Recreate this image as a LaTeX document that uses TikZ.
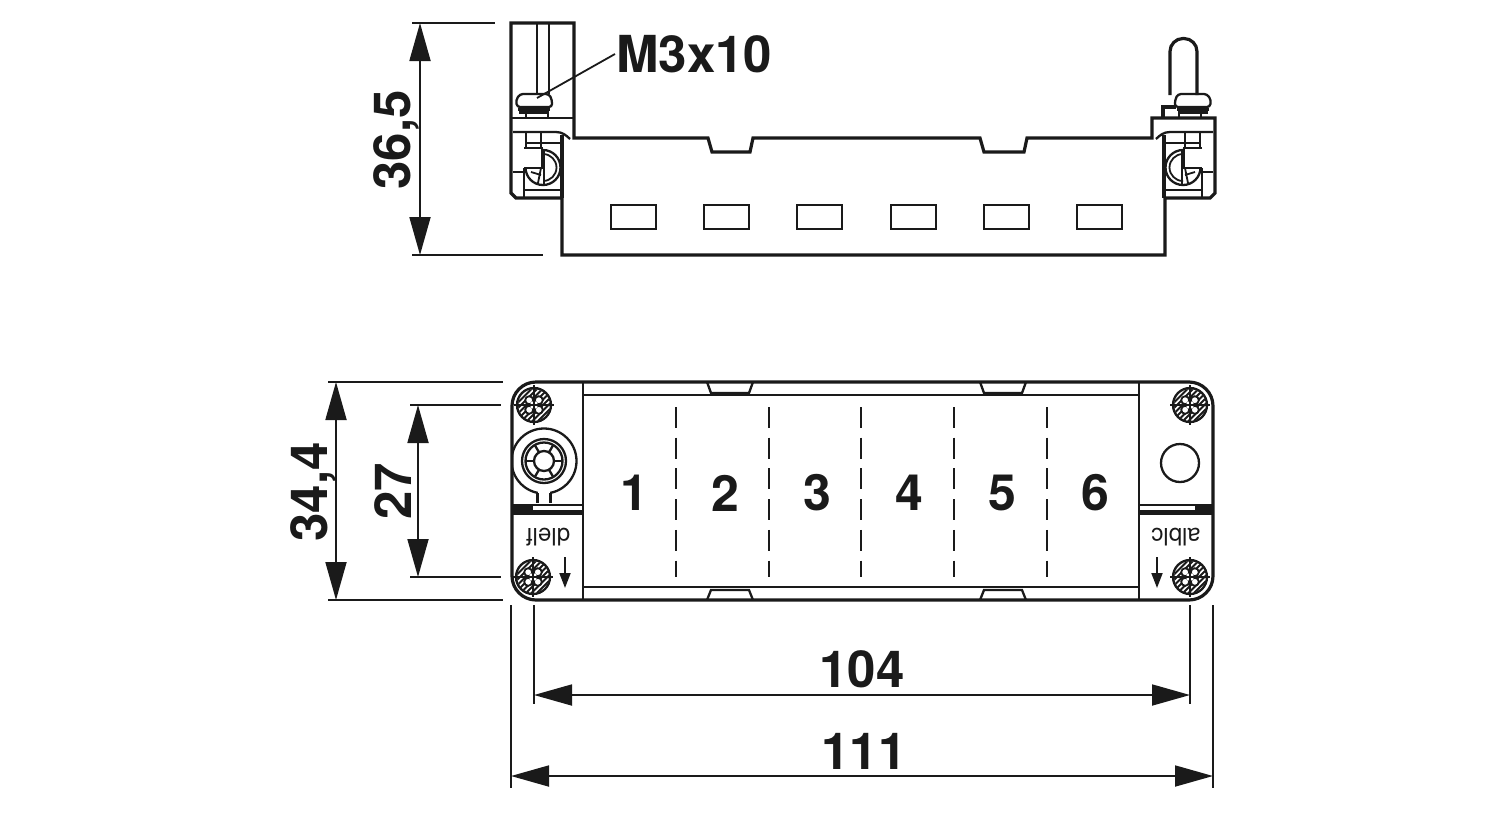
\documentclass[tikz,border=0pt]{standalone}
\usepackage{fontspec}
\setmainfont{TeX Gyre Heros}
\usetikzlibrary{arrows.meta}
\definecolor{ink}{HTML}{1A1A1A}
\tikzset{
  heavy/.style={draw=ink,line width=3.2pt,line join=miter},
  medium/.style={draw=ink,line width=2.3pt},
  thin line/.style={draw=ink,line width=1.8pt},
  dimline/.style={draw=ink,line width=1.8pt,{Triangle[length=38pt,width=21pt,fill=ink]}-{Triangle[length=38pt,width=21pt,fill=ink]}},
  extline/.style={draw=ink,line width=1.8pt},
  dimtext/.style={font=\fontsize{51}{51}\selectfont\bfseries,text=ink,inner sep=0pt},
  numtext/.style={font=\fontsize{50}{50}\selectfont\bfseries,text=ink,inner sep=0pt},
  smalltext/.style={font=\fontsize{24}{24}\selectfont,text=ink,inner sep=0pt,rotate=180},
  divider/.style={draw=ink,line width=2.3pt,dash pattern=on 21pt off 9.7pt},
  smallarrow/.style={draw=ink,line width=1.9pt,-{Triangle[length=15pt,width=11pt,fill=ink]}},
}
\newcommand{\sidebit}{%
  \draw[medium] (511,118) -- (574,118);
  \draw[medium] (513,132) -- (556,132) .. controls (562,132) and (566,135) .. (570,139);
  \draw[heavy] (562,135) -- (562,198);
  \draw[medium] (526,132) -- (526,148) (541,132) -- (541,148) (526,143) -- (562,143);
  \draw[medium] (513,172) -- (524,172) (524,168) -- (524,197) (524,190) -- (562,190);
  \begin{scope}
    \clip (543,140) rectangle (565,190);
    \draw[medium] (543,167.5) circle[radius=17.5pt];
    \draw[thin line] (543,167.5) circle[radius=13.5pt];
  \end{scope}
  \begin{scope}
    \clip (520,168) rectangle (543,190);
    \draw[medium] (543,167.5) circle[radius=17.5pt];
  \end{scope}
  \draw[medium] (524,148) -- (542,148) -- (542,168) -- (524,168);
  \draw[medium] (544,150) -- (544,185);
  \draw[thin line] (531,172) -- (541,175) (541,168) -- (538,183);
}
\newcommand{\topscrew}{%
  \draw[medium,rounded corners=3pt] (517,107) -- (516,100) -- (520,94) -- (549,94) -- (552,100) -- (552,107) -- cycle;
  \draw[medium] (518,109.5) -- (550,109.5) (519,112.5) -- (549,112.5);
  \draw[medium] (526,113) -- (526,118) (548,113) -- (548,118);
}
\newcommand{\headscrew}[2]{%
  \begin{scope}[shift={(#1,#2)}]
    \begin{scope}
      \clip (0,0) circle[radius=16pt];
      \foreach \d in {-24,-18.5,-13,-7.5,-2,3.5,9,14.5,20,25.5}
        \draw[draw=ink,line width=2pt] (\d-20,20) -- (\d+20,-20);
    \end{scope}
    \foreach \p/\q in {4.8/4.8,-4.8/4.8,4.8/-4.8,-4.8/-4.8}
      \draw[thin line,fill=white] (\p,\q) circle[radius=4pt];
    \fill[white] (0,0) circle[radius=4pt];
    \draw[medium] (0,0) circle[radius=17pt];
    \draw[thin line] (-20,0) -- (20,0) (0,-20) -- (0,20);
  \end{scope}%
}
\begin{document}
\begin{tikzpicture}[x=1pt,y=-1pt]
\useasboundingbox (0,0) rectangle (1500,820);
\fill[white] (0,0) rectangle (1500,820);

% ---------- top view outline
\draw[heavy] (516,198) -- (511,193) -- (511,23) -- (574,23) -- (574,138) -- (708,138) -- (712,152) -- (750,152) -- (753,138)
  -- (980,138) -- (984,152) -- (1024,152) -- (1027,138) -- (1152,138) -- (1152,118) -- (1215,118)
  -- (1215,193) -- (1210,198) -- (1165,198) -- (1165,255) -- (562,255) -- (562,198) -- cycle;
\draw[medium] (537,23) -- (537,94) (549,23) -- (549,94);
\foreach \sx in {611,704,797,891,984,1077}
  \draw[medium] (\sx,205) rectangle ++(45,24);
\sidebit
\topscrew
\begin{scope}[shift={(1726,0)},xscale=-1]
  \sidebit
\end{scope}
\begin{scope}[shift={(1727,0)},xscale=-1]
  \topscrew
\end{scope}
\draw[heavy] (1163,118) -- (1163,107) -- (1176,107);
\draw[heavy,rounded corners=13pt] (1170,95) -- (1170,38.5) -- (1197,38.5) -- (1197,95);

% ---------- front view
\draw[medium] (583,395) -- (1139,395) (583,587) -- (1139,587);
\foreach \nx in {707,980} {
  \draw[medium,fill=white] (\nx,382) -- (\nx+4,393) -- (\nx+42,393) -- (\nx+46,382);
  \draw[medium,fill=white] (\nx,600) -- (\nx+4,590) -- (\nx+42,590) -- (\nx+46,600);
}
\draw[heavy,rounded corners=24pt] (512,382) rectangle (1213,600);
\draw[medium] (583,382) -- (583,600) (1139,382) -- (1139,600);
\foreach \dx in {676,769,861,954,1047}
  \draw[divider] (\dx,407) -- (\dx,577);
\draw[thin line] (512,505) -- (583,505) (512,511) -- (583,511) (1139,505) -- (1213,505) (1139,511) -- (1213,511);
\fill[ink] (512,504) rectangle (533,513);
\fill[ink] (1195,504) rectangle (1213,513);
\draw[heavy] (512,513) -- (583,513) (1139,513) -- (1213,513);

\headscrew{534}{405}
\headscrew{533}{577}
\headscrew{1190}{405}
\headscrew{1190}{577}

% round fixture on the left
\begin{scope}
  \clip (512,420) rectangle (583,505);
  \draw[medium] (544,461) circle[radius=32.5pt];
\end{scope}
\fill[white] (538,490) rectangle (550,497);
\draw[medium] (537.5,493) -- (537.5,503) (550.5,493) -- (550.5,503);
\draw[medium] (544,461) circle[radius=22pt];
\draw[medium] (544,461) circle[radius=18.5pt];
\draw[medium] (544,461) circle[radius=10pt];
\foreach \a in {0,60,120,180,240,300}
  \draw[medium] ([shift={(\a:10)}]544,461) -- ([shift={(\a:18.5)}]544,461);
\draw[medium] (1180,463) circle[radius=19pt];

\node[smalltext] (def) at (548,537) {dlelf};
\node[smalltext] (abc) at (1176,537) {alblc};
\coordinate (la) at (565,557); \coordinate (lb) at (565,588);
\coordinate (ra) at (1157,557); \coordinate (rb) at (1157,588);
\draw[smallarrow] (la) -- (lb);
\draw[smallarrow] (ra) -- (rb);

\node[numtext] (n1) at (634.5,493) {1};
\node[numtext] (n2) at (725.5,493) {2};
\node[numtext] (n3) at (817.5,493) {3};
\node[numtext] (n4) at (909,493) {4};
\node[numtext] (n5) at (1002,493) {5};
\node[numtext] (n6) at (1095,493) {6};

% ---------- M3x10 leader
\node[dimtext,anchor=west] (m3) at (616,54) {M3x10};
\coordinate (scr) at (537,98);
\draw[thin line] (m3.west) ++(-1,0) -- (scr);

% ---------- dimensions
\coordinate (a1) at (420,23);  \coordinate (a2) at (420,255);
\draw[extline] (412,23) -- (495,23) (412,255) -- (543,255);
\draw[dimline] (a1) -- (a2);
\node[dimtext,rotate=90] (d365) at (396,140) {36,5};

\coordinate (b1) at (336,382); \coordinate (b2) at (336,600);
\draw[extline] (328,382) -- (503,382) (328,600) -- (503,600);
\draw[dimline] (b1) -- (b2);
\node[dimtext,rotate=90] (d344) at (313.5,492) {34,4};

\coordinate (c1) at (418,405); \coordinate (c2) at (418,577);
\draw[extline] (410,405) -- (501,405) (410,577) -- (501,577);
\draw[dimline] (c1) -- (c2);
\node[dimtext,rotate=90] (d27) at (393,491) {27};

\coordinate (e1) at (534,695); \coordinate (e2) at (1190,695);
\draw[extline] (534,605) -- (534,704) (1190,605) -- (1190,704);
\draw[dimline] (e1) -- (e2);
\node[dimtext] (d104) at (862,669) {104};

\coordinate (f1) at (511,776); \coordinate (f2) at (1213,776);
\draw[extline] (511,605) -- (511,788) (1213,605) -- (1213,788);
\draw[dimline] (f1) -- (f2);
\node[dimtext] (d111) at (864,751) {111};
\end{tikzpicture}
\end{document}
